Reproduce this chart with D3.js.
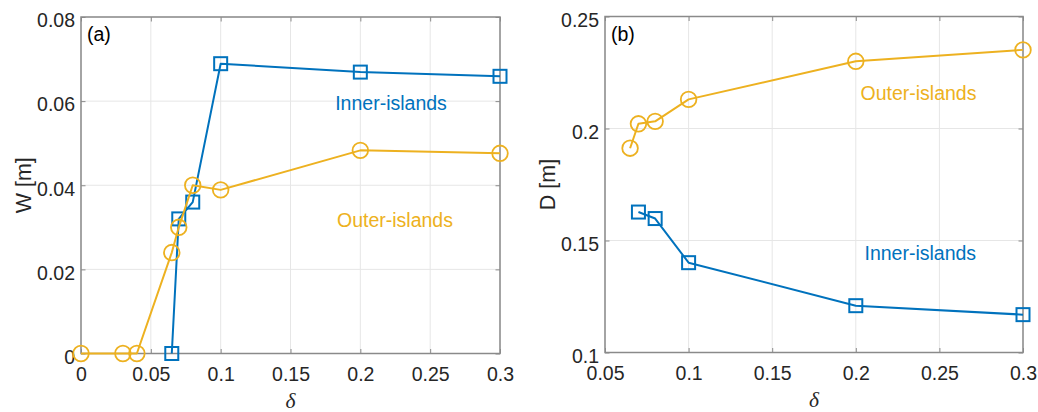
<!DOCTYPE html>
<html>
<head>
<meta charset="utf-8">
<script src="https://cdn.jsdelivr.net/npm/d3@7"></script>
<style>
  html, body { margin: 0; padding: 0; background: #fff; }
  svg { display: block; }
</style>
</head>
<body>
<svg id="chart" width="1038" height="412"></svg>
<script>
// ---------- data ----------
// Panel (a): W [m] vs delta
const aInnerDelta = [0.065, 0.07, 0.08, 0.1, 0.2, 0.3];
const aInnerW     = [0.0, 0.032, 0.036, 0.0689, 0.0669, 0.0659];
const aOuterDelta = [0.0, 0.03, 0.04, 0.065, 0.07, 0.08, 0.1, 0.2, 0.3];
const aOuterW     = [0.0, 0.0, 0.0, 0.024, 0.030, 0.040, 0.0389, 0.0483, 0.0476];

// Panel (b): D [m] vs delta
const bOuterDelta = [0.065, 0.07, 0.08, 0.1, 0.2, 0.3];
const bOuterD     = [0.1912, 0.2021, 0.2032, 0.2130, 0.2300, 0.2351];
const bInnerDelta = [0.07, 0.08, 0.1, 0.2, 0.3];
const bInnerD     = [0.1627, 0.1598, 0.1401, 0.1209, 0.1169];

// tick values
const aXTicks = [0, 0.05, 0.1, 0.15, 0.2, 0.25, 0.3];
const aYTicks = [0, 0.02, 0.04, 0.06, 0.08];
const bXTicks = [0.05, 0.1, 0.15, 0.2, 0.25, 0.3];
const bYTicks = [0.1, 0.15, 0.2, 0.25];

const seriesNames = ["Inner-islands", "Outer-islands"];
const panelTags = ["(a)", "(b)"];
const yLabels = ["W [m]", "D [m]"];
const xLabel = "δ";

// ---------- style ----------
const BLUE = "#0072BD", YELLOW = "#EDB120";
const AXIS = "#8a8a8a", GRID = "#e6e6e6", TXT = "#262626";
const TICKFONT = 19.5, LABFONT = 21.5;
const SANS = "'Liberation Sans', Arial, Helvetica, sans-serif";

const svg = d3.select("#chart");

function panel(cfg) {
  const x = d3.scaleLinear().domain(cfg.xDomain).range([cfg.x0, cfg.x1]);
  const y = d3.scaleLinear().domain(cfg.yDomain).range([cfg.y1, cfg.y0]);
  const g = svg.append("g");

  // grid
  g.append("g").selectAll("line").data(cfg.xTicks).join("line")
    .attr("x1", d => x(d)).attr("x2", d => x(d))
    .attr("y1", cfg.y0).attr("y2", cfg.y1)
    .attr("stroke", GRID).attr("stroke-width", 1);
  g.append("g").selectAll("line").data(cfg.yTicks).join("line")
    .attr("y1", d => y(d)).attr("y2", d => y(d))
    .attr("x1", cfg.x0).attr("x2", cfg.x1)
    .attr("stroke", GRID).attr("stroke-width", 1);

  // axes via d3 axis (inward ticks)
  const tl = 4.5;
  const fmt = d => String(d);
  const axB = g.append("g").attr("transform", `translate(0,${cfg.y1})`)
    .call(d3.axisBottom(x).tickValues(cfg.xTicks).tickFormat(fmt).tickSizeInner(-tl).tickSizeOuter(0).tickPadding(0));
  const axT = g.append("g").attr("transform", `translate(0,${cfg.y0})`)
    .call(d3.axisTop(x).tickValues(cfg.xTicks).tickFormat("").tickSizeInner(-tl).tickSizeOuter(0));
  const axL = g.append("g").attr("transform", `translate(${cfg.x0},0)`)
    .call(d3.axisLeft(y).tickValues(cfg.yTicks).tickFormat(fmt).tickSizeInner(-tl).tickSizeOuter(0).tickPadding(0));
  const axR = g.append("g").attr("transform", `translate(${cfg.x1},0)`)
    .call(d3.axisRight(y).tickValues(cfg.yTicks).tickFormat("").tickSizeInner(-tl).tickSizeOuter(0));
  [axB, axT, axL, axR].forEach(a => {
    a.select(".domain").remove();
    a.selectAll(".tick line").attr("stroke", AXIS).attr("stroke-width", 1);
  });
  axB.selectAll(".tick text")
    .attr("y", 0).attr("dy", 27)
    .attr("font-family", SANS).attr("font-size", TICKFONT).attr("fill", TXT);
  axL.selectAll(".tick text")
    .attr("x", -6).attr("dy", "0.5em")
    .attr("font-family", SANS).attr("font-size", TICKFONT).attr("fill", TXT);

  // box
  g.append("rect")
    .attr("x", cfg.x0).attr("y", cfg.y0)
    .attr("width", cfg.x1 - cfg.x0).attr("height", cfg.y1 - cfg.y0)
    .attr("fill", "none").attr("stroke", AXIS).attr("stroke-width", 1.5);

  // series
  const line = d3.line().x(d => x(d[0])).y(d => y(d[1]));
  cfg.series.forEach(s => {
    const pts = s.xs.map((v, i) => [v, s.ys[i]]);
    g.append("path").datum(pts)
      .attr("d", line).attr("fill", "none")
      .attr("stroke", s.color).attr("stroke-width", 2).attr("stroke-linejoin", "round");
    if (s.marker === "square") {
      const h = 6.5;
      g.append("g").selectAll("rect").data(pts).join("rect")
        .attr("x", d => x(d[0]) - h).attr("y", d => y(d[1]) - h)
        .attr("width", 2 * h).attr("height", 2 * h)
        .attr("fill", "none").attr("stroke", s.color).attr("stroke-width", 2);
    } else {
      g.append("g").selectAll("circle").data(pts).join("circle")
        .attr("cx", d => x(d[0])).attr("cy", d => y(d[1])).attr("r", 7.8)
        .attr("fill", "none").attr("stroke", s.color).attr("stroke-width", 1.8);
    }
    g.append("text")
      .attr("x", x(s.labelAt[0])).attr("y", y(s.labelAt[1]))
      .attr("font-family", SANS).attr("font-size", TICKFONT).attr("fill", s.color)
      .text(s.name);
  });

  // panel tag
  g.append("text")
    .attr("x", cfg.x0 + 6).attr("y", cfg.y0 + 24)
    .attr("font-family", SANS).attr("font-size", TICKFONT).attr("fill", "#000")
    .text(cfg.tag);

  // axis labels
  g.append("text")
    .attr("x", (cfg.x0 + cfg.x1) / 2).attr("y", cfg.y1 + 54)
    .attr("text-anchor", "middle")
    .attr("font-family", "'Liberation Serif', 'Times New Roman', serif")
    .attr("font-style", "italic").attr("font-size", LABFONT).attr("fill", TXT)
    .text(xLabel);
  g.append("text")
    .attr("transform", `translate(${cfg.x0 - 50},${(cfg.y0 + cfg.y1) / 2}) rotate(-90)`)
    .attr("text-anchor", "middle")
    .attr("font-family", SANS).attr("font-size", LABFONT).attr("fill", TXT)
    .text(cfg.yLabel);
}

panel({
  x0: 81, x1: 500, y0: 17, y1: 353.5,
  xDomain: [0, 0.3], yDomain: [0, 0.08],
  xTicks: aXTicks, yTicks: aYTicks,
  tag: panelTags[0], yLabel: yLabels[0],
  series: [
    { name: seriesNames[0], xs: aInnerDelta, ys: aInnerW, color: BLUE, marker: "square", labelAt: [0.182, 0.0578] },
    { name: seriesNames[1], xs: aOuterDelta, ys: aOuterW, color: YELLOW, marker: "circle", labelAt: [0.1833, 0.0301] }
  ]
});

panel({
  x0: 605, x1: 1023, y0: 16.5, y1: 352.5,
  xDomain: [0.05, 0.3], yDomain: [0.1, 0.25],
  xTicks: bXTicks, yTicks: bYTicks,
  tag: panelTags[1], yLabel: yLabels[1],
  series: [
    { name: seriesNames[0], xs: bInnerDelta, ys: bInnerD, color: BLUE, marker: "square", labelAt: [0.2052, 0.1414] },
    { name: seriesNames[1], xs: bOuterDelta, ys: bOuterD, color: YELLOW, marker: "circle", labelAt: [0.2028, 0.2129] }
  ]
});
</script>
</body>
</html>
